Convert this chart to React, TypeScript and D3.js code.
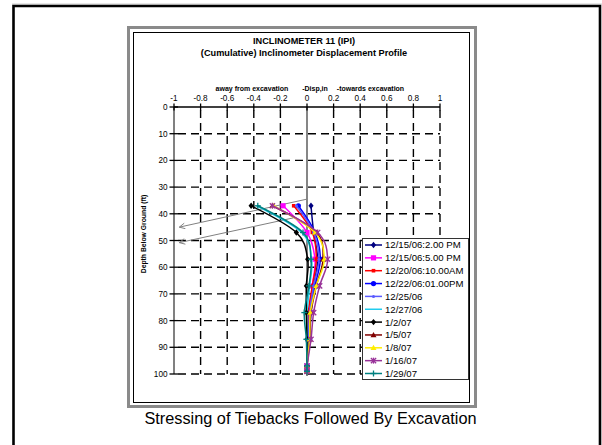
import React from "react";
import * as d3 from "d3";

const depths = [37, 47, 57, 67, 77, 87, 97, 99];
const seriesNames = [
  "12/15/06:2.00 PM",
  "12/15/06:5.00 PM",
  "12/20/06:10.00AM",
  "12/22/06:01.00PM",
  "12/25/06",
  "12/27/06",
  "1/2/07",
  "1/5/07",
  "1/8/07",
  "1/16/07",
  "1/29/07",
];
const s1215a = [0.03, 0.05, 0.08, 0.05, 0.02, 0.01, 0.0, 0.0];
const s1215b = [-0.18, 0.0, 0.06, 0.04, 0.02, 0.01, 0.0, 0.0];
const s1220 = [-0.1, 0.04, 0.07, 0.04, 0.01, 0.01, 0.0, 0.0];
const s1222 = [-0.065, 0.06, 0.1, 0.06, 0.03, 0.02, 0.0, 0.0];
const s1225 = [-0.08, 0.05, 0.09, 0.05, 0.02, 0.01, 0.0, 0.0];
const s1227 = [-0.38, -0.04, 0.035, 0.02, 0.0, 0.0, 0.0, 0.0];
const s0102 = [-0.42, -0.08, 0.005, -0.005, -0.005, 0.0, 0.0, 0.0];
const s0105 = [-0.26, 0.07, 0.12, 0.07, 0.03, 0.02, 0.0, 0.0];
const s0108 = [-0.25, 0.06, 0.13, 0.07, 0.025, 0.02, 0.0, 0.0];
const s0116 = [-0.26, 0.08, 0.155, 0.095, 0.05, 0.03, 0.0, 0.0];
const s0129 = [-0.37, -0.03, 0.03, 0.015, -0.02, -0.005, 0.0, 0.0];
const seriesValues = [s1215a, s1215b, s1220, s1222, s1225, s1227, s0102, s0105, s0108, s0116, s0129];
const seriesColors = ["#000080", "#FF00FF", "#FF0000", "#0000FF", "#5A5AFF", "#22CCEE", "#000000", "#800000", "#FFEE00", "#993399", "#008080"];
const seriesMarkers = ["diamond", "square", "smallsquare", "circle", "dot", "none", "diamond", "triangle", "triangle", "star", "plus"];

const xTicks = [-1, -0.8, -0.6, -0.4, -0.2, 0, 0.2, 0.4, 0.6, 0.8, 1];
const xTickLabels = ["-1", "-0.8", "-0.6", "-0.4", "-0.2", "0", "0.2", "0.4", "0.6", "0.8", "1"];
const yTicks = [0, 10, 20, 30, 40, 50, 60, 70, 80, 90, 100];

// arrows in data units (from start to arrowhead)
const arrowStarts = [[0.0, 34.5], [-0.1, 41.5]];
const arrowEnds = [[-0.96, 45], [-0.96, 50.8]];

const FONT = "'Liberation Sans', Arial, sans-serif";

function Marker({ type, x, y, color }: { type: string; x: number; y: number; color: string }) {
  const s = 2.6;
  switch (type) {
    case "diamond":
      return <path d={`M${x},${y - s - 0.6}L${x + s},${y}L${x},${y + s + 0.6}L${x - s},${y}Z`} fill={color} />;
    case "square":
      return <rect x={x - 2.6} y={y - 2.6} width={5.2} height={5.2} fill={color} />;
    case "smallsquare":
      return <rect x={x - 1.8} y={y - 1.8} width={3.6} height={3.6} fill={color} />;
    case "circle":
      return <circle cx={x} cy={y} r={2.6} fill={color} />;
    case "dot":
      return <circle cx={x} cy={y} r={1.5} fill={color} />;
    case "triangle":
      return <path d={`M${x},${y - 3}L${x + 3},${y + 2.2}L${x - 3},${y + 2.2}Z`} fill={color} />;
    case "star":
      return (
        <g stroke={color} strokeWidth={1.3}>
          <line x1={x - 2.6} y1={y - 2.6} x2={x + 2.6} y2={y + 2.6} />
          <line x1={x - 2.6} y1={y + 2.6} x2={x + 2.6} y2={y - 2.6} />
          <line x1={x} y1={y - 3} x2={x} y2={y + 3} />
        </g>
      );
    case "plus":
      return (
        <g stroke={color} strokeWidth={1.3}>
          <line x1={x - 3} y1={y} x2={x + 3} y2={y} />
          <line x1={x} y1={y - 3} x2={x} y2={y + 3} />
        </g>
      );
    default:
      return null;
  }
}

export default function App() {
  const x = d3.scaleLinear().domain([-1, 1]).range([174, 440]);
  const y = d3.scaleLinear().domain([0, 100]).range([107, 374]);
  const line = d3
    .line<[number, number]>()
    .x((d) => x(d[0]))
    .y((d) => y(d[1]))
    .curve(d3.curveCardinal.tension(0));

  const legX = 362;
  const legY = 238;
  const legStep = 12.85;

  return (
    <svg
      width={602}
      height={445}
      style={{ position: "absolute", left: 0, top: 0, background: "#fff" }}
      fontFamily={FONT}
    >
      <defs>
        <marker id="arr" viewBox="0 0 10 10" refX="9" refY="5" markerWidth="7" markerHeight="7" orient="auto" markerUnits="userSpaceOnUse">
          <path d="M1,1L9,5L1,9" fill="none" stroke="#808080" strokeWidth={1.3} />
        </marker>
      </defs>
      {/* page frame */}
      <line x1={12} y1={4} x2={602} y2={4} stroke="#cccccc" strokeWidth={1} />
      <path d="M13.5,445V6H600V445" fill="none" stroke="#000" strokeWidth={2.6} />

      {/* chart frame */}
      <rect x={128.5} y={27.5} width={347} height={379} fill="#fff" stroke="#8a8a8a" strokeWidth={3} />
      <rect x={133.5} y={32.5} width={336} height={370} fill="#fff" stroke="#000" strokeWidth={1} />

      {/* titles */}
      <text x={304} y={43.5} textAnchor="middle" fontSize={9.2} fontWeight="bold">INCLINOMETER 11 (IPI)</text>
      <text x={304} y={55.5} textAnchor="middle" fontSize={9.2} fontWeight="bold">(Cumulative) Inclinometer Displacement Profile</text>

      {/* x axis title */}
      <text x={252} y={90.5} textAnchor="middle" fontSize={7} fontWeight="bold">away from excavation</text>
      <text x={315} y={90.5} textAnchor="middle" fontSize={7} fontWeight="bold">-Disp,in</text>
      <text x={370.5} y={90.5} textAnchor="middle" fontSize={7} fontWeight="bold">-towards excavation</text>

      {/* y axis title */}
      <text transform="translate(146,234) rotate(-90)" textAnchor="middle" fontSize={6.8} fontWeight="bold">Depth Below Ground (ft)</text>

      {/* grid */}
      {xTicks.slice(1).filter((t) => t !== 0).map((t) => (
        <line key={"vx" + t} x1={x(t)} x2={x(t)} y1={y(0) + 3} y2={y(100)} stroke="#000" strokeWidth={1.4} strokeDasharray="8,5" />
      ))}
      {yTicks.slice(1).map((t) => (
        <line key={"hy" + t} x1={x(-1) + 4} x2={x(1)} y1={y(t)} y2={y(t)} stroke="#000" strokeWidth={1.4} strokeDasharray="8,5" />
      ))}

      {/* axes */}
      <line x1={x(-1)} x2={x(-1)} y1={y(0)} y2={y(100)} stroke="#808080" strokeWidth={2} />
      <line x1={x(0)} x2={x(0)} y1={y(0)} y2={y(100) + 2} stroke="#444" strokeWidth={1.3} />
      <line x1={x(-1)} x2={x(1)} y1={y(0)} y2={y(0)} stroke="#000" strokeWidth={1.5} />
      {xTicks.map((t) => (
        <line key={"tx" + t} x1={x(t)} x2={x(t)} y1={y(0) - 3.5} y2={y(0) + 3.5} stroke="#000" strokeWidth={1.3} />
      ))}
      {yTicks.map((t) => (
        <line key={"ty" + t} x1={x(-1) - 4.5} x2={x(-1) + 4} y1={y(t)} y2={y(t)} stroke="#000" strokeWidth={1.3} />
      ))}
      {xTicks.map((t, i) => (
        <text key={"lx" + t} x={x(t)} y={100.5} textAnchor="middle" fontSize={8.2}>{xTickLabels[i]}</text>
      ))}
      {yTicks.map((t) => (
        <text key={"ly" + t} x={167.5} y={y(t) + 3} textAnchor="end" fontSize={8.2}>{t}</text>
      ))}

      {/* arrows */}
      {arrowStarts.map((s, i) => (
        <line key={"ar" + i} x1={x(s[0])} y1={y(s[1])} x2={x(arrowEnds[i][0])} y2={y(arrowEnds[i][1])} stroke="#808080" strokeWidth={1} markerEnd="url(#arr)" />
      ))}

      {/* series */}
      {seriesValues.map((vals, i) => {
        const pts: [number, number][] = vals.map((v, j) => [v, depths[j]]);
        return (
          <g key={"s" + i}>
            <path d={line(pts) || ""} fill="none" stroke={seriesColors[i]} strokeWidth={1.5} />
            {pts.map((p, j) => (
              <Marker key={j} type={seriesMarkers[i]} x={x(p[0])} y={y(p[1])} color={seriesColors[i]} />
            ))}
          </g>
        );
      })}

      {/* legend */}
      <rect x={legX + 0.5} y={legY + 0.5} width={106} height={141} fill="#fff" stroke="#333" strokeWidth={1} />
      {seriesNames.map((name, i) => {
        const cy = legY + 7 + i * legStep;
        return (
          <g key={"lg" + i}>
            <line x1={365} x2={382} y1={cy} y2={cy} stroke={seriesColors[i]} strokeWidth={1.5} />
            <Marker type={seriesMarkers[i]} x={373.5} y={cy} color={seriesColors[i]} />
            <text x={385} y={cy + 3.4} fontSize={9.6}>{name}</text>
          </g>
        );
      })}

      {/* caption */}
      <text x={310.5} y={424} textAnchor="middle" fontSize={16.3}>Stressing of Tiebacks Followed By Excavation</text>
    </svg>
  );
}
